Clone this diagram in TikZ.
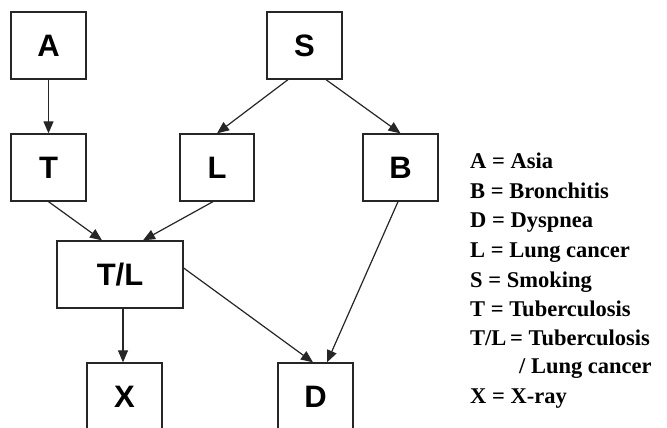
\documentclass[tikz,border=0pt]{standalone}
\usepackage{fontspec}
\setmainfont{Liberation Serif}
\newfontfamily\boxfont{Liberation Sans}
\usetikzlibrary{arrows.meta}
\begin{document}
\begin{tikzpicture}[x=1pt,y=-1pt,
  varbox/.style={draw=black!85, line width=1.3pt, fill=white, minimum height=67pt,
    inner sep=0pt, font=\boxfont\bfseries\fontsize{31}{31}\selectfont},
  link/.style={draw=black!85, line width=1.2pt, -{Triangle[length=12pt,width=10pt]}},
  legend/.style={anchor=base west, inner sep=0pt, font=\bfseries\fontsize{22.5}{22.5}\selectfont}]
  \useasboundingbox (0,0) rectangle (667,428);
  \clip (0,0) rectangle (667,428);
  \fill[white] (0,0) rectangle (667,428);

  % network variables
  \node[varbox, minimum width=75pt]  (A)  at (48.5,45.5)   {A};
  \node[varbox, minimum width=75pt]  (S)  at (304.5,45.5)  {S};
  \node[varbox, minimum width=75pt]  (T)  at (48.5,167.5)  {T};
  \node[varbox, minimum width=74pt]  (L)  at (217,167.5)   {L};
  \node[varbox, minimum width=75pt]  (B)  at (400.5,167.5) {B};
  \node[varbox, minimum width=126pt] (TL) at (120,274.5)   {T/L};
  \node[varbox, minimum width=75pt]  (X)  at (124.5,396.5) {X};
  \node[varbox, minimum width=75pt]  (D)  at (315.5,396.5) {D};

  % dependencies
  \draw[link] (A.south) -- (T.north);
  \draw[link] ([xshift=-16.5pt]S.south) -- (L.north);
  \draw[link] ([xshift=21.5pt]S.south) -- (B.north);
  \draw[link] (T.south) -- ([xshift=-18pt]TL.north);
  \draw[link] ([xshift=-4pt]L.south) -- ([xshift=23pt]TL.north);
  \draw[link] ([xshift=3pt]TL.south) -- ([xshift=-1.5pt]X.north);
  \draw[link] ([yshift=6.5pt]TL.east) -- ([xshift=-2.5pt]D.north);
  \draw[link] ([xshift=-2.5pt]B.south) -- ([xshift=11.5pt]D.north);

  % legend
  \node[legend] (l1) at (470,168) {A = Asia};
  \node[legend] (l2) at (470,198) {B = Bronchitis};
  \node[legend] (l3) at (470,227) {D = Dyspnea};
  \node[legend] (l4) at (470,257) {L = Lung cancer};
  \node[legend] (l5) at (470,287) {S = Smoking};
  \node[legend] (l6) at (470,316) {T = Tuberculosis};
  \node[legend] (l7) at (470,345) {T/L\,= Tuberculosis};
  \node[legend] (l8) at (519,373) {/ Lung cancer};
  \node[legend] (l9) at (470,403) {X = X-ray};
\end{tikzpicture}
\end{document}
